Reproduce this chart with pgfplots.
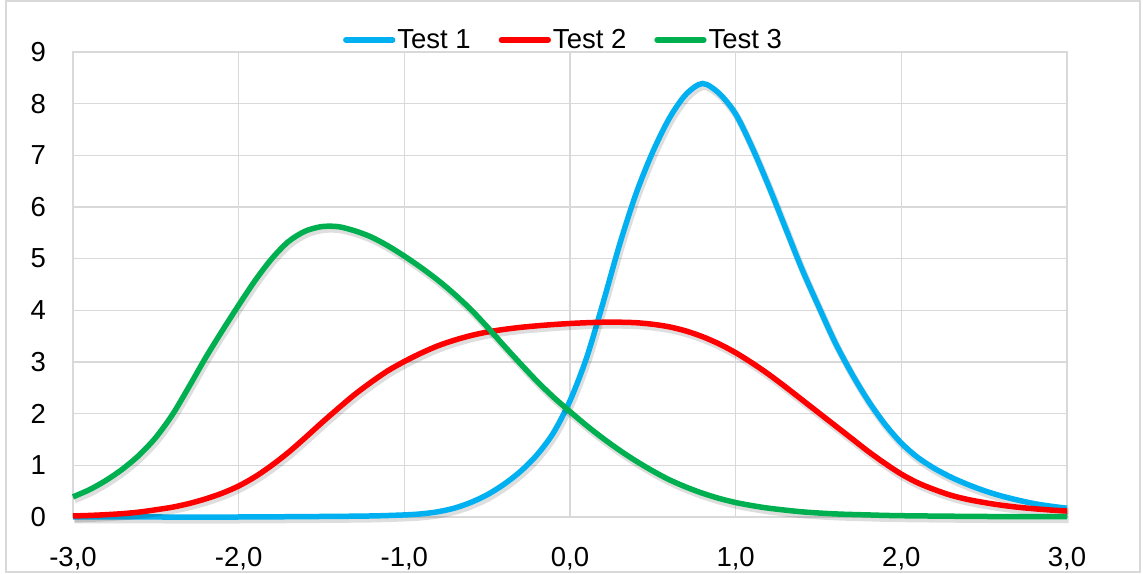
\documentclass[border=0pt]{standalone}
\usepackage{fontspec}
\setmainfont{Liberation Sans}
\usepackage{pgfplots}
\pgfplotsset{compat=1.18}
\usepackage{pgfplotstable}
\definecolor{cblue}{HTML}{00B0F0}
\definecolor{cred}{HTML}{FF0000}
\definecolor{cgreen}{HTML}{00B050}
\definecolor{gridgray}{HTML}{D9D9D9}

\pgfplotstableread{
x y
-3.0 0.00
-2.5 0.00
-2.0 0.00
-1.5 0.01
-1.2 0.02
-1.0 0.04
-0.9 0.06
-0.8 0.10
-0.7 0.17
-0.6 0.28
-0.5 0.43
-0.4 0.63
-0.3 0.88
-0.2 1.20
-0.1 1.63
0.0 2.25
0.1 3.08
0.2 4.15
0.3 5.28
0.4 6.27
0.5 7.07
0.6 7.72
0.7 8.18
0.8 8.39
0.9 8.20
1.0 7.80
1.1 7.15
1.2 6.40
1.3 5.60
1.4 4.80
1.5 4.08
1.6 3.38
1.7 2.78
1.8 2.25
1.9 1.80
2.0 1.43
2.1 1.15
2.2 0.94
2.3 0.77
2.4 0.63
2.5 0.51
2.6 0.41
2.7 0.33
2.8 0.26
2.9 0.21
3.0 0.17
}\testone

\pgfplotstableread{
x y
-3.0 0.02
-2.9 0.03
-2.8 0.045
-2.7 0.065
-2.6 0.095
-2.5 0.14
-2.4 0.19
-2.3 0.26
-2.2 0.35
-2.1 0.46
-2.0 0.60
-1.9 0.78
-1.8 1.00
-1.7 1.25
-1.6 1.53
-1.5 1.82
-1.4 2.10
-1.3 2.37
-1.2 2.61
-1.1 2.83
-1.0 3.01
-0.9 3.17
-0.8 3.31
-0.7 3.42
-0.6 3.51
-0.5 3.58
-0.4 3.63
-0.3 3.67
-0.2 3.70
-0.1 3.725
0.0 3.745
0.1 3.76
0.2 3.77
0.3 3.77
0.4 3.76
0.5 3.73
0.6 3.68
0.7 3.60
0.8 3.49
0.9 3.35
1.0 3.18
1.1 2.98
1.2 2.76
1.3 2.52
1.4 2.27
1.5 2.02
1.6 1.77
1.7 1.52
1.8 1.27
1.9 1.04
2.0 0.83
2.1 0.66
2.2 0.53
2.3 0.42
2.4 0.34
2.5 0.28
2.6 0.23
2.7 0.19
2.8 0.16
2.9 0.135
3.0 0.115
}\testtwo

\pgfplotstableread{
x y
-3.0 0.39
-2.9 0.53
-2.8 0.71
-2.7 0.93
-2.6 1.20
-2.5 1.54
-2.4 1.98
-2.3 2.52
-2.2 3.08
-2.1 3.60
-2.0 4.10
-1.9 4.58
-1.8 5.00
-1.7 5.33
-1.6 5.53
-1.5 5.62
-1.4 5.62
-1.3 5.54
-1.2 5.42
-1.1 5.25
-1.0 5.05
-0.9 4.83
-0.8 4.59
-0.7 4.32
-0.6 4.02
-0.5 3.68
-0.4 3.32
-0.3 2.97
-0.2 2.63
-0.1 2.32
0.0 2.04
0.1 1.77
0.2 1.52
0.3 1.29
0.4 1.08
0.5 0.89
0.6 0.72
0.7 0.58
0.8 0.46
0.9 0.36
1.0 0.28
1.1 0.22
1.2 0.17
1.4 0.10
1.6 0.06
1.8 0.04
2.0 0.025
2.5 0.01
3.0 0.005
}\testthree

\begin{document}
\begin{tikzpicture}
\begin{axis}[
  scale only axis,
  width=994pt, height=465pt,
  xmin=-3, xmax=3, ymin=0, ymax=9,
  clip=false,
  xtick={-3,-2,-1,0,1,2,3},
  xticklabels={{-3,0},{-2,0},{-1,0},{0,0},{1,0},{2,0},{3,0}},
  ytick={0,1,2,3,4,5,6,7,8,9},
  yticklabels={0,1,2,3,4,5,6,7,8,9},
  major tick length=0pt,
  grid=major,
  grid style={draw=gridgray, line width=1.2pt},
  axis line style={draw=gridgray, line width=1.2pt},
  tick label style={font=\fontsize{27.5}{32}\selectfont, inner sep=0pt},
  yticklabel style={anchor=east, xshift=-27pt},
  xticklabel style={anchor=north, yshift=-30pt},
  legend columns=3,
  legend style={draw=none, fill=none, font=\fontsize{27.5}{32}\selectfont,
    at={(rel axis cs:0.4935,1.026)}, anchor=center,
    /tikz/every even column/.append style={column sep=26pt},
    inner sep=0pt},
  legend image code/.code={\draw[#1, line width=5.5pt, line cap=round] (2.75pt,0pt) -- (49.5pt,0pt);},
  every axis plot/.append style={line width=5.5pt, smooth, no markers},
]
% frame and bounding box
\path (rel axis cs:-0.07344,-0.12258) rectangle (rel axis cs:1.07646,1.11183);
\draw[gridgray, line width=1.2pt] (rel axis cs:-0.0674,-0.1183) rectangle (rel axis cs:1.0734,1.1097);
% shadows and series
\addplot[draw=black, opacity=0.13, line width=7pt, transform canvas={xshift=1.5pt,yshift=-3pt}, forget plot] table {\testone};
\addplot[cblue] table {\testone};
\addlegendentry{Test 1}
\addplot[draw=black, opacity=0.13, line width=7pt, transform canvas={xshift=1.5pt,yshift=-3pt}, forget plot] table {\testtwo};
\addplot[cred] table {\testtwo};
\addlegendentry{Test 2}
\addplot[draw=black, opacity=0.13, line width=7pt, transform canvas={xshift=1.5pt,yshift=-3pt}, forget plot] table {\testthree};
\addplot[cgreen] table {\testthree};
\addlegendentry{Test 3}
\end{axis}
\end{tikzpicture}
\end{document}
